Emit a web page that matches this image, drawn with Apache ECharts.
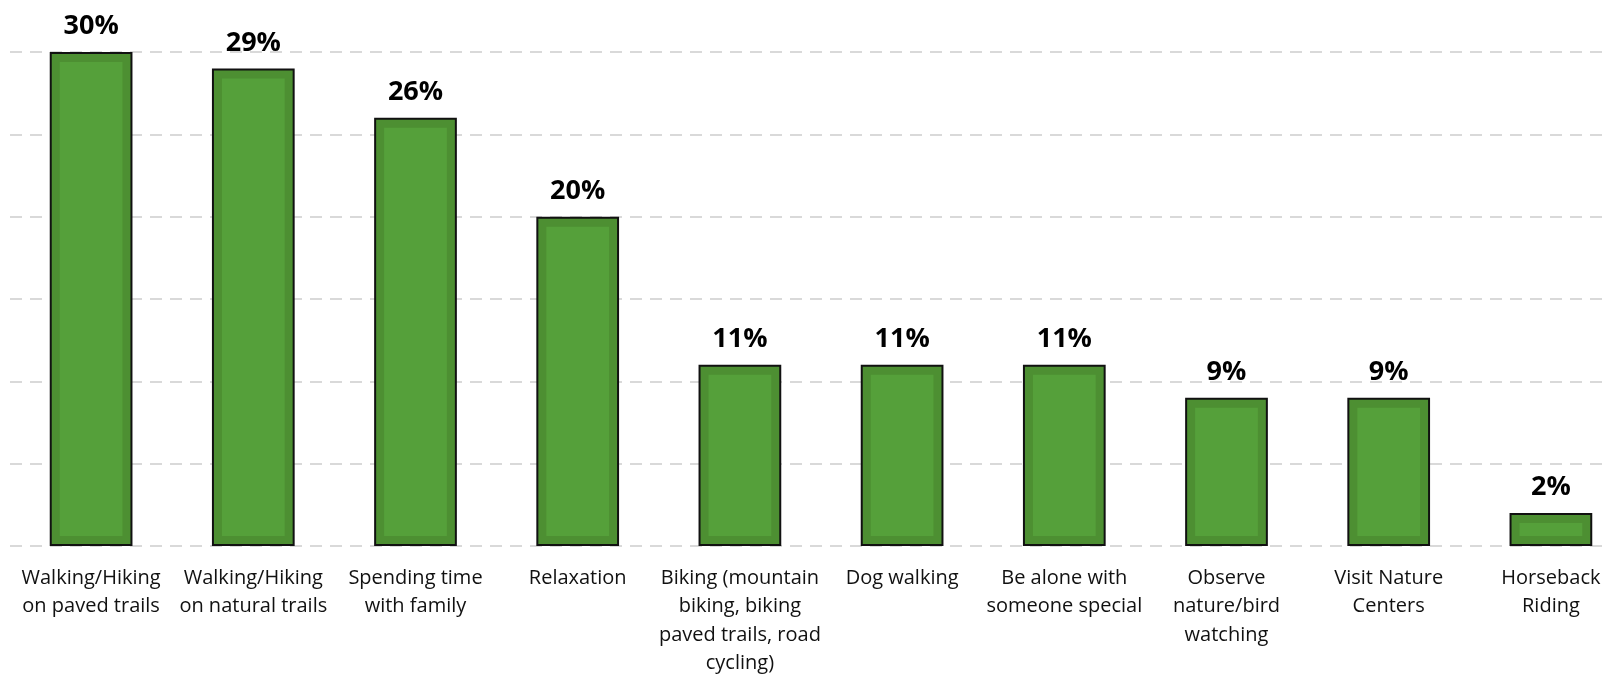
<!DOCTYPE html>
<html>
<head>
<meta charset="utf-8">
<script src="https://cdn.jsdelivr.net/npm/echarts@6/dist/echarts.min.js"></script>
<style>
	html,body{margin:0;padding:0;background:#fff;}
	#chart{width:1604px;height:674px;}
</style>
</head>
<body>
<div id="chart"></div>
<script>
	// 活动类别
	const categories = [
		'Walking/Hiking\non paved trails',
		'Walking/Hiking\non natural trails',
		'Spending time\nwith family',
		'Relaxation',
		'Biking (mountain\nbiking, biking\npaved trails, road\ncycling)',
		'Dog walking',
		'Be alone with\nsomeone special',
		'Observe\nnature/bird\nwatching',
		'Visit Nature\nCenters',
		'Horseback\nRiding'
	];
	// 百分比
	const values = [30, 29, 26, 20, 11, 11, 11, 9, 9, 2];
	const yTicks = [0, 5, 10, 15, 20, 25, 30];

	const font = '"Open Sans", "Noto Sans", sans-serif';
	const myChart = echarts.init(document.getElementById('chart'));

	const option = {
		backgroundColor: '#fff',
		animation: false,
		grid: {left: 10, right: -28, top: 52, bottom: 128, containLabel: false, outerBoundsMode: 'none'},
		xAxis: {
			type: 'category',
			data: categories,
			axisLine: {show: false},
			axisTick: {show: false},
			axisLabel: {
				interval: 0,
				margin: 18,
				fontFamily: font,
				fontSize: 20,
				lineHeight: 28.5,
				color: '#111'
			}
		},
		yAxis: {
			type: 'value',
			min: yTicks[0],
			max: yTicks[yTicks.length - 1],
			interval: 5,
			axisLabel: {show: false},
			axisLine: {show: false},
			axisTick: {show: false},
			splitLine: {lineStyle: {color: '#d9d9d9', width: 2, type: [12, 8]}}
		},
		series: [{
			type: 'bar',
			data: values,
			barWidth: '51%',
			itemStyle: {color: '#4d8f32', borderColor: '#111', borderWidth: 2},
			label: {
				show: true,
				position: 'top',
				distance: 12,
				formatter: '{c}%',
				fontFamily: font,
				fontWeight: 'bold',
				fontSize: 27,
				color: '#000'
			},
			z: 2
		}, {
			// 内层浅色矩形
			type: 'custom',
			data: values.map((v, i) => [i, v]),
			renderItem: function(params, api) {
				const top = api.coord([api.value(0), api.value(1)]);
				const bottom = api.coord([api.value(0), 0]);
				const w = api.size([1, 0])[0] * 0.51;
				const inset = 10;
				return {
					type: 'rect',
					shape: {
						x: top[0] - w / 2 + inset,
						y: top[1] + inset,
						width: w - inset * 2,
						height: bottom[1] - top[1] - inset * 2
					},
					style: {fill: '#55a03a'}
				};
			},
			silent: true,
			z: 3
		}]
	};
	myChart.setOption(option);
</script>
</body>
</html>
